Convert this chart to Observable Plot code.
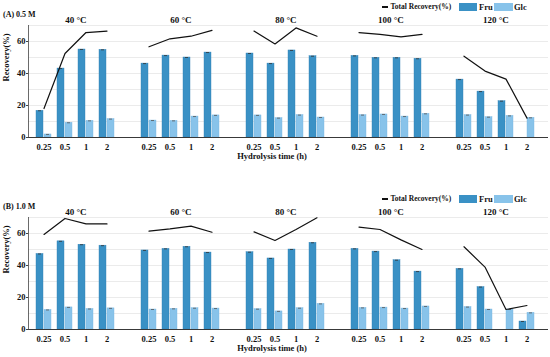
<!DOCTYPE html>
<html>
<head>
<meta charset="utf-8">
<script src="https://cdn.jsdelivr.net/npm/d3@7"></script>
<script src="https://cdn.jsdelivr.net/npm/@observablehq/plot@0.6"></script>
<style>
  html, body { margin: 0; padding: 0; background: #fff; }
  body { width: 550px; height: 357px; overflow: hidden; font-family: "Liberation Serif", serif; font-weight: bold; }
  .panel { position: relative; width: 550px; height: 165px; }
  .ov { position: absolute; white-space: nowrap; line-height: 1; color: #111; }
  .sw { position: absolute; }
</style>
</head>
<body>
<div id="root"></div>
<script>
// ---- data ----
const temps = ["40 °C", "60 °C", "80 °C", "100 °C", "120 °C"];
const times = ["0.25", "0.5", "1", "2"];
const panelTitles = ["(A) 0.5 M", "(B) 1.0 M"];

// Panel A (0.5 M)
const fruA = [16.7, 43.1, 55.0, 54.8,  46.2, 51.2, 50.0, 53.1,  52.5, 46.2, 54.4, 50.8,  51.0, 49.8, 49.8, 49.2,  36.2, 28.7, 22.7, 0];
const glcA = [1.9, 9.2, 10.4, 11.5,  10.6, 10.4, 13.1, 13.8,  13.8, 12.1, 14.0, 12.5,  14.0, 14.4, 13.1, 14.8,  14.0, 12.7, 13.5, 12.3];
const totA = [18.1, 52.5, 65.6, 66.5,  56.7, 61.7, 63.3, 67.0,  66.5, 58.5, 68.5, 63.3,  65.6, 64.4, 62.9, 64.4,  50.8, 41.5, 36.5, 12.1];

// Panel B (1.0 M)
const fruB = [47.2, 55.1, 53.0, 52.4,  49.4, 50.4, 51.7, 48.1,  48.3, 44.4, 50.0, 54.2,  50.4, 48.7, 43.3, 36.2,  37.9, 26.5, 0, 5.0];
const glcB = [12.2, 13.8, 12.8, 13.2,  12.5, 12.9, 13.3, 13.1,  12.7, 11.3, 13.3, 16.0,  13.5, 13.7, 13.1, 14.4,  14.0, 12.5, 12.5, 10.4];
const totB = [59.4, 69.4, 66.0, 66.0,  61.5, 62.9, 64.6, 60.8,  61.0, 55.6, 62.5, 69.8,  64.0, 62.5, 56.0, 50.0,  51.7, 39.0, 12.5, 15.0];

const yTicks = [0, 20, 40, 60];
const yGrid = [10, 20, 30, 40, 50, 60, 70];
const seriesNames = ["Total Recovery(%)", "Fru", "Glc"];
const xTitle = "Hydrolysis time (h)";
const yTitle = "Recovery(%)";

// ---- styling ----
const FRU = "#3a91c5";
const GLC = "#88c3ea";
const W = 550, H = 165;
const ML = 28, MR = 8, MT = 25, MB = 28;
const PI = 0.306, PO = 0.046;

function buildPanel(title, fru, glc, tot) {
  const rows = [];
  temps.forEach((t, i) => times.forEach((h, j) => {
    const k = i * 4 + j;
    rows.push({key: t + "|" + h, temp: t, time: h, fru: fru[k], glc: glc[k], tot: tot[k]});
  }));
  const domain = [];
  temps.forEach((t, i) => {
    if (i > 0) domain.push("gap" + i);
    times.forEach(h => domain.push(t + "|" + h));
  });
  const keys = rows.map(r => r.key);
  const step = (W - ML - MR) / (domain.length - PI + 2 * PO);
  const labelRows = temps.map(t => ({temp: t, key: t + "|" + times[1]}));

  const chart = Plot.plot({
    width: W, height: H,
    marginLeft: ML, marginRight: MR, marginTop: MT, marginBottom: MB,
    style: {fontFamily: "'Liberation Serif', serif", fontWeight: "bold", fontSize: "8.5px", color: "#111", background: "white"},
    x: {type: "band", domain, paddingInner: PI, paddingOuter: PO, axis: null, label: null},
    y: {domain: [0, 70], axis: null, label: null},
    marks: [
      Plot.ruleY(yGrid, {stroke: "#e6e6e6", strokeWidth: 0.8, insetRight: -6}),
      Plot.barY(rows, {x: "key", y: "fru", fill: FRU, stroke: "#2f7fb3", strokeWidth: 0.4, insetRight: 8}),
      Plot.barY(rows, {x: "key", y: "glc", fill: GLC, stroke: "#77b5de", strokeWidth: 0.4, insetLeft: 8}),
      Plot.tickY(rows.filter(r => r.fru > 0), {x: "key", y: "fru", stroke: "#333", strokeWidth: 0.8, insetLeft: 2, insetRight: 10}),
      Plot.tickY(rows.filter(r => r.glc > 0), {x: "key", y: "glc", stroke: "#555", strokeWidth: 0.8, insetLeft: 10, insetRight: 2}),
      Plot.ruleY([0], {stroke: "#222", strokeWidth: 0.9, insetRight: -6}),
      Plot.frame({anchor: "left", stroke: "#444", strokeWidth: 0.8}),
      Plot.axisY({ticks: yTicks, tickSize: 2, tickPadding: 1, fontSize: 8.5, stroke: "#444", label: null}),
      Plot.axisX({ticks: keys, tickFormat: d => d.split("|")[1], tickSize: 0, tickPadding: 6.5, fontSize: 8.5, label: null}),
      Plot.lineY(rows, {x: "key", y: "tot", z: "temp", stroke: "#111", strokeWidth: 1.2}),
      Plot.text(labelRows, {x: "key", text: "temp", frameAnchor: "top", dy: -9, dx: step / 2, fontSize: 9, fill: "#111"}),
      Plot.text([yTitle], {frameAnchor: "left", rotate: -90, dx: -22, fontSize: 8.5, fill: "#111"}),
      Plot.text([xTitle], {frameAnchor: "bottom", dy: 21, dx: -13.5, fontSize: 8.5, fill: "#111"})
    ]
  });

  const wrap = document.createElement("div");
  wrap.className = "panel";
  wrap.appendChild(chart);

  const add = (html, css, cls = "ov") => {
    const el = document.createElement("div");
    el.className = cls;
    el.innerHTML = html;
    Object.assign(el.style, css);
    wrap.appendChild(el);
  };
  // panel title
  add(title, {left: "3px", top: "11px", fontSize: "8px"});
  // legend
  add("", {left: "382px", top: "6.4px", width: "6px", height: "1.3px", background: "#111"}, "sw");
  add(seriesNames[0], {left: "390.5px", top: "3.3px", fontSize: "7.5px"});
  add("", {left: "459px", top: "2.7px", width: "18px", height: "8px", background: FRU}, "sw");
  add(seriesNames[1], {left: "479px", top: "2.6px", fontSize: "8.5px"});
  add("", {left: "494px", top: "2.7px", width: "19px", height: "8px", background: GLC}, "sw");
  add(seriesNames[2], {left: "514px", top: "2.6px", fontSize: "8.5px"});
  return wrap;
}

const root = document.getElementById("root");
root.appendChild(buildPanel(panelTitles[0], fruA, glcA, totA));
const spacer = document.createElement("div");
spacer.style.height = "27px";
root.appendChild(spacer);
root.appendChild(buildPanel(panelTitles[1], fruB, glcB, totB));
</script>
</body>
</html>
